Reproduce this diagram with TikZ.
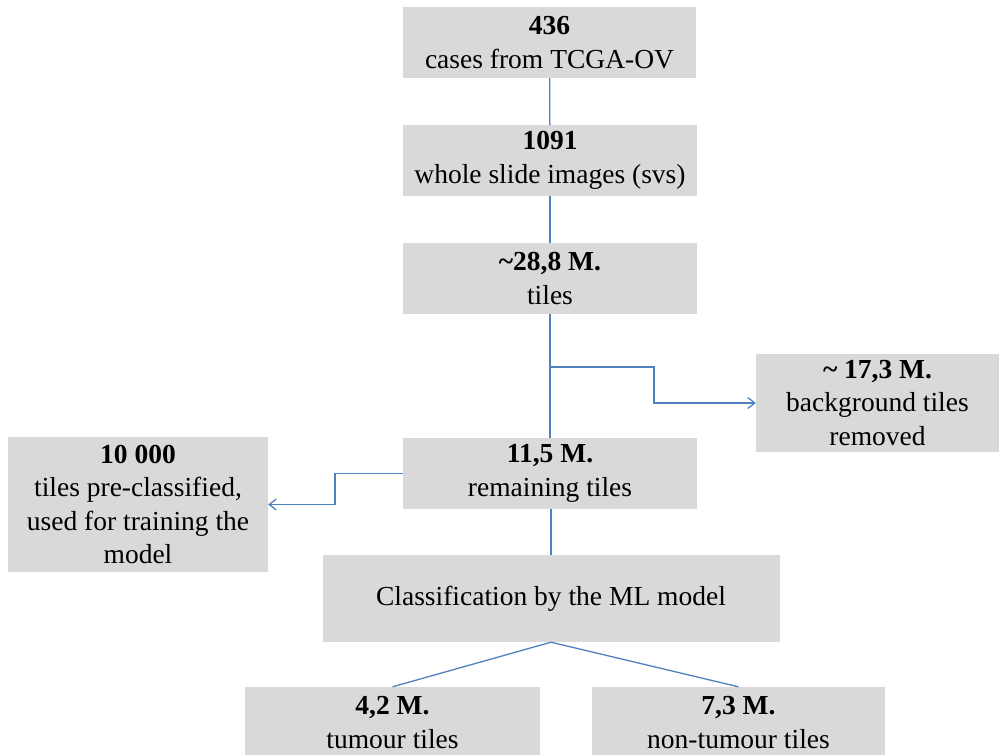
\documentclass[tikz,border=0pt]{standalone}
\usepackage{fontspec}
\setmainfont{Liberation Serif}
\usetikzlibrary{arrows.meta}
\definecolor{boxgray}{RGB}{217,217,217}
\definecolor{linkblue}{RGB}{79,129,189}
\begin{document}
\begin{tikzpicture}[x=1pt,y=-1pt,
  box/.style={fill=boxgray, draw=none, inner sep=0pt, align=center,
    font=\fontsize{27.5}{33.5}\selectfont},
  link/.style={draw=linkblue, line width=1.3pt},
  arrowlink/.style={link, -{Straight Barb[length=7pt,width=11pt,line width=1.3pt]}}]
\useasboundingbox (0,0) rectangle (999,755);
\clip (0,0) rectangle (999,755);

% main column
\node[box, minimum width=293pt, minimum height=71pt] (cases) at (549.5,42.5)
  {\textbf{436}\\cases from TCGA-OV};
\node[box, minimum width=294pt, minimum height=71pt] (wsi) at (550,160.5)
  {\textbf{1091}\\whole slide images (svs)};
\node[box, minimum width=294pt, minimum height=71pt] (tiles) at (550,278.5)
  {\textbf{\textasciitilde28,8 M.}\\tiles};
\node[box, minimum width=294pt, minimum height=71pt] (remain) at (550,473.5)
  {\textbf{11,5 M.}\\remaining tiles};
\node[box, minimum width=457pt, minimum height=87pt] (classify) at (551,598.5)
  {Classification by the ML model};

% side branches
\node[box, minimum width=243pt, minimum height=98pt] (background) at (877.5,403)
  {\textbf{\textasciitilde{} 17,3 M.}\\background tiles\\removed};
\node[box, minimum width=260pt, minimum height=135pt] (training) at (138,504.5)
  {\textbf{10 000}\\tiles pre-classified,\\used for training the\\model};

% classification results
\node[box, minimum width=295pt, minimum height=71pt] (tumour) at (392.5,722.5)
  {\textbf{4,2 M.}\\tumour tiles};
\node[box, minimum width=293pt, minimum height=71pt] (nontumour) at (738.5,722.5)
  {\textbf{7,3 M.}\\non-tumour tiles};

% connectors
\draw[link] (cases) -- (wsi);
\draw[link] (wsi) -- (tiles);
\draw[link] (tiles) -- (remain);
\draw[link] (remain.south -| classify.north) -- (classify.north);
\coordinate (split) at (550,367);
\draw[arrowlink] (split) -- (654,367) |- (background.west);
\draw[arrowlink] (remain.west) -- (335,473.5) |- (training.east);
\draw[link] (classify.south) -- (tumour.north);
\draw[link] (classify.south) -- (nontumour.north);
\end{tikzpicture}
\end{document}
